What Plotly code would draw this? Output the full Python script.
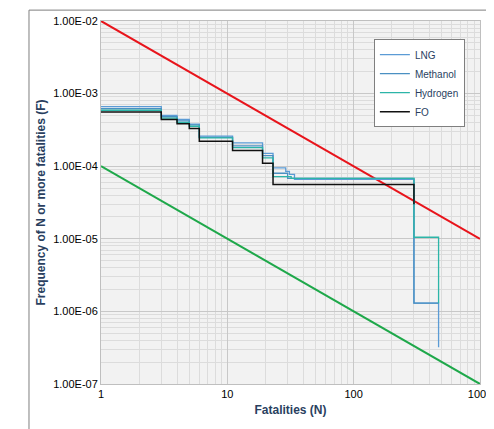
import plotly.graph_objects as go

# step data (N, frequency of N or more fatalities)
lng_n = [1, 3, 4, 5, 6, 11, 19, 23, 29, 31, 34, 300, 300, 470, 470]
lng_f = [6.6e-4, 5.0e-4, 4.4e-4, 3.8e-4, 2.6e-4, 2.1e-4, 1.5e-4, 9.5e-5, 8.5e-5, 7.7e-5, 6.6e-5, 6.6e-5, 1.3e-6, 1.3e-6, 3.2e-7]
meoh_n = [1, 3, 4, 5, 6, 11, 19, 23, 30, 300, 300, 470, 470]
meoh_f = [6.2e-4, 4.8e-4, 4.2e-4, 3.7e-4, 2.5e-4, 1.9e-4, 1.4e-4, 8.0e-5, 6.8e-5, 6.8e-5, 1.3e-6, 1.3e-6, 1.3e-6]
h2_n = [1, 3, 4, 5, 6, 11, 19, 23, 32, 300, 300, 470, 470]
h2_f = [5.9e-4, 4.6e-4, 4.0e-4, 3.55e-4, 2.45e-4, 1.8e-4, 1.3e-4, 7.2e-5, 6.8e-5, 6.8e-5, 1.05e-5, 1.05e-5, 1.3e-6]
fo_n = [1, 3, 4, 5, 6, 11, 19, 23, 300, 300]
fo_f = [5.6e-4, 4.4e-4, 3.85e-4, 3.3e-4, 2.2e-4, 1.65e-4, 1.1e-4, 5.6e-5, 5.6e-5, 3.0e-5]

crit_n = [1, 1000]
upper_f = [1e-2, 1e-5]
lower_f = [1e-4, 1e-7]

y_ticks = [1e-7, 1e-6, 1e-5, 1e-4, 1e-3, 1e-2]
y_labels = ["1.00E-07", "1.00E-06", "1.00E-05", "1.00E-04", "1.00E-03", "1.00E-02"]
x_ticks = [1, 10, 100, 1000]
x_labels = ["1", "10", "100", "1000"]

x_minor = [m * d for d in (1, 10, 100) for m in range(2, 10)]
y_minor = [m * d for d in (1e-7, 1e-6, 1e-5, 1e-4, 1e-3) for m in range(2, 10)]

fig = go.Figure()
fig.add_trace(go.Scatter(x=crit_n, y=upper_f, mode="lines", line=dict(color="#e8141b", width=2), showlegend=False))
fig.add_trace(go.Scatter(x=crit_n, y=lower_f, mode="lines", line=dict(color="#1ea84a", width=2), showlegend=False))
fig.add_trace(go.Scatter(x=lng_n, y=lng_f, name="LNG", mode="lines", line=dict(color="#5b9bd5", width=1.3, shape="hv")))
fig.add_trace(go.Scatter(x=meoh_n, y=meoh_f, name="Methanol", mode="lines", line=dict(color="#4a90c2", width=1.3, shape="hv")))
fig.add_trace(go.Scatter(x=h2_n, y=h2_f, name="Hydrogen", mode="lines", line=dict(color="#2cb5a8", width=1.3, shape="hv")))
fig.add_trace(go.Scatter(x=fo_n, y=fo_f, name="FO", mode="lines", line=dict(color="#111111", width=1.5, shape="hv")))

axis_font = dict(family="Liberation Sans, Arial", size=11, color="black")
fig.update_xaxes(type="log", range=[0, 3], tickvals=x_ticks, ticktext=x_labels, automargin=False,
                 showgrid=True, gridcolor="#c8c8c8",
                 minor=dict(showgrid=True, gridcolor="#dcdcdc", tickvals=x_minor),
                 linecolor="#bfbfbf", showline=True, mirror=True, tickfont=axis_font,
                 title=dict(text="<b>Fatalities (N)</b>", font=dict(family="Liberation Sans, Arial", size=12), standoff=6))
fig.update_yaxes(type="log", range=[-7, -2], tickvals=y_ticks, ticktext=y_labels, automargin=False,
                 showgrid=True, gridcolor="#c8c8c8",
                 minor=dict(showgrid=True, gridcolor="#dcdcdc", tickvals=y_minor),
                 linecolor="#bfbfbf", showline=True, mirror=True, tickfont=axis_font,
                 title=dict(text="<b>Frequency of N or more fatalities (F)</b>", font=dict(family="Liberation Sans, Arial", size=12), standoff=4))
fig.update_layout(
    width=494, height=429,
    margin=dict(l=93, r=22, t=13, b=53),
    paper_bgcolor="white", plot_bgcolor="#f2f2f2",
    legend=dict(x=0.72, y=0.95, xanchor="left", yanchor="top", bgcolor="white",
                bordercolor="#7f7f7f", borderwidth=1, font=dict(family="Liberation Sans, Arial", size=10),
                tracegroupgap=0),
    shapes=[dict(type="rect", xref="paper", yref="paper", x0=-0.19, x1=1.045, y0=-0.145, y1=1.03,
                 line=dict(color="#7f7f7f", width=1))],
)

fig.write_html("out.html")
